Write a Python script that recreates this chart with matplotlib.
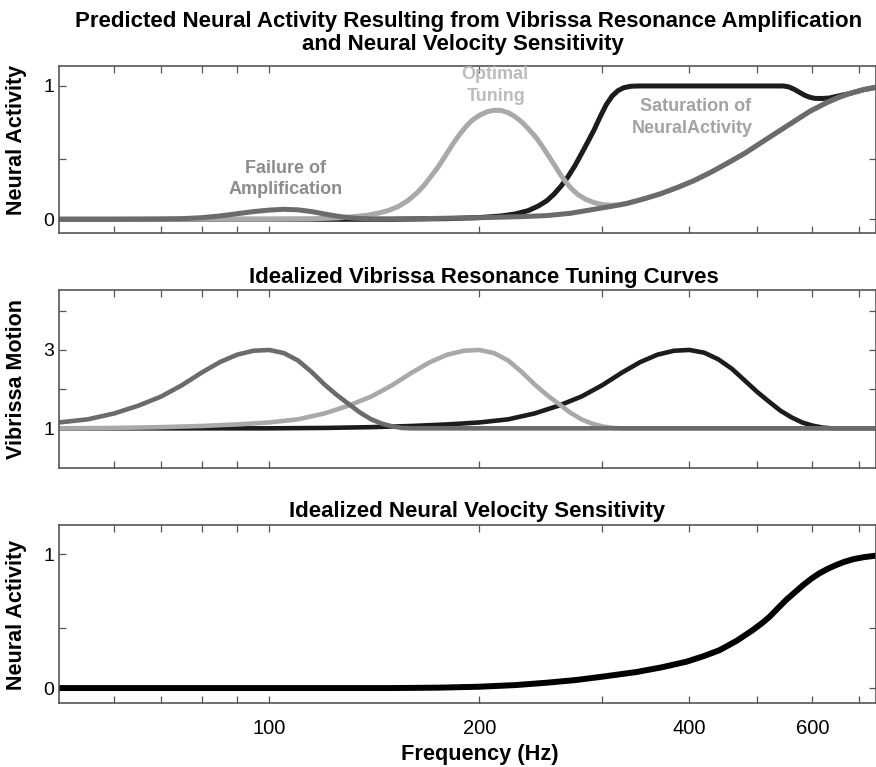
import matplotlib
matplotlib.use("Agg")
import matplotlib.pyplot as plt
from matplotlib.ticker import FixedLocator, FixedFormatter, NullFormatter

plt.rcParams['font.family'] = ['Liberation Sans', 'DejaVu Sans']

# ---------------- data ----------------
FREQ_RANGE = (50, 740)
major_ticks = [100, 200, 400, 600]
major_labels = ['100', '200', '400', '600']
minor_ticks = [60, 70, 80, 90, 300, 500, 700]

# Predicted neural activity (top panel)
freq_fail = [50, 60, 70, 75, 80, 85, 90, 95, 100, 105, 110, 115, 120, 125, 130,
             135, 140, 150, 170, 200, 230, 250, 270, 292, 310, 326, 345, 363, 385,
             406, 430, 453, 480, 505, 535, 564, 595, 629, 655, 680, 710, 740]
act_fail = [0.0, 0.0, 0.002, 0.005, 0.012, 0.025, 0.042, 0.058, 0.069, 0.075,
            0.071, 0.058, 0.040, 0.024, 0.012, 0.006, 0.003, 0.003, 0.006, 0.012,
            0.02, 0.028, 0.045, 0.075, 0.098, 0.12, 0.155, 0.19, 0.24, 0.29, 0.355,
            0.42, 0.495, 0.57, 0.655, 0.732, 0.81, 0.875, 0.915, 0.945, 0.972, 0.99]

freq_opt = [50, 100, 115, 125, 131, 138, 143, 148, 153, 158, 163, 167, 171, 175,
            179, 183, 187, 191, 195, 200, 205, 210, 215, 220, 225, 230, 235, 241,
            246, 251, 256, 261, 266, 271, 277, 284, 292, 300, 310, 320, 326, 345,
            363, 385, 406, 430, 453, 480, 505, 535, 564, 595, 629, 655, 680, 710, 740]
act_opt = [0.0, 0.0, 0.003, 0.01, 0.018, 0.03, 0.045, 0.065, 0.095, 0.14, 0.2,
           0.26, 0.33, 0.40, 0.48, 0.56, 0.63, 0.69, 0.74, 0.78, 0.806, 0.818,
           0.816, 0.80, 0.77, 0.73, 0.68, 0.615, 0.55, 0.48, 0.41, 0.34, 0.28,
           0.23, 0.185, 0.15, 0.125, 0.11, 0.105, 0.11, 0.12, 0.155, 0.19, 0.24,
           0.29, 0.355, 0.42, 0.495, 0.57, 0.655, 0.732, 0.81, 0.875, 0.915,
           0.945, 0.972, 0.99]

freq_sat = [50, 150, 180, 200, 215, 225, 235, 243, 250, 256, 262, 268, 274, 280,
            286, 292, 298, 304, 310, 316, 322, 330, 340, 545, 555, 565, 575, 585,
            595, 605, 620, 635, 650, 680, 710, 740]
act_sat = [0.0, 0.0, 0.005, 0.013, 0.025, 0.04, 0.065, 0.1, 0.14, 0.19, 0.25,
           0.32, 0.40, 0.49, 0.58, 0.67, 0.77, 0.86, 0.925, 0.965, 0.987, 0.998,
           1.0, 1.0, 0.993, 0.975, 0.952, 0.93, 0.915, 0.907, 0.906, 0.91, 0.922,
           0.945, 0.972, 0.99]

# Vibrissa resonance tuning curves (middle panel)
freq_res100 = [50, 55, 60, 65, 70, 75, 80, 85, 90, 95, 100, 105, 110, 115, 120,
               125, 130, 135, 140, 145, 150, 155, 160, 740]
motion_res100 = [1.15, 1.23, 1.38, 1.58, 1.81, 2.10, 2.42, 2.69, 2.88, 2.98, 3.0,
                 2.92, 2.73, 2.44, 2.12, 1.85, 1.62, 1.40, 1.23, 1.12, 1.05, 1.01,
                 1.0, 1.0]

freq_res200 = [50, 60, 70, 80, 90, 100, 110, 120, 130, 140, 150, 160, 170, 180,
               190, 200, 210, 220, 230, 240, 250, 260, 270, 280, 290, 300, 310,
               320, 740]
motion_res200 = [1.0, 1.01, 1.03, 1.06, 1.10, 1.15, 1.23, 1.38, 1.58, 1.81, 2.10,
                 2.42, 2.69, 2.88, 2.98, 3.0, 2.92, 2.73, 2.44, 2.12, 1.85, 1.62,
                 1.40, 1.23, 1.12, 1.05, 1.01, 1.0, 1.0]

freq_res400 = [50, 100, 120, 140, 160, 180, 200, 220, 240, 260, 280, 300, 320,
               340, 360, 380, 400, 420, 440, 460, 480, 500, 520, 540, 560, 580,
               600, 620, 640, 740]
motion_res400 = [1.0, 1.0, 1.01, 1.03, 1.06, 1.10, 1.15, 1.23, 1.38, 1.58, 1.81,
                 2.10, 2.42, 2.69, 2.88, 2.98, 3.0, 2.93, 2.76, 2.52, 2.22, 1.93,
                 1.68, 1.45, 1.28, 1.15, 1.07, 1.02, 1.0, 1.0]

# Neural velocity sensitivity (bottom panel)
freq_vel = [50, 150, 175, 200, 225, 250, 275, 300, 336, 365, 396, 420, 442, 468,
            493, 508, 521, 535, 550, 566, 582, 598, 614, 632, 649, 667, 686, 710, 740]
act_vel = [0.0, 0.0, 0.003, 0.01, 0.022, 0.04, 0.06, 0.085, 0.12, 0.155, 0.197,
           0.24, 0.284, 0.355, 0.434, 0.485, 0.533, 0.595, 0.658, 0.715, 0.77,
           0.818, 0.858, 0.893, 0.92, 0.944, 0.963, 0.978, 0.99]

# ---------------- figure ----------------
W, H = 876, 767
fig = plt.figure(figsize=(W / 100, H / 100), dpi=100)


def fx(x):
    return x / W


def fy(y):
    return 1 - y / H


def add_axes_px(left, top, right, bottom):
    return fig.add_axes([fx(left), fy(bottom), (right - left) / W, (bottom - top) / H])


DARK = '#6b6b6b'
LIGHT = '#a9a9a9'
BLACK = '#1c1c1c'
FRAME = '#555555'
LINE_KW = dict(solid_joinstyle='round', solid_capstyle='butt')


def style_axes(ax, ylim, yticks, ylabels, show_x_labels=False):
    ax.set_xscale('log')
    ax.set_xlim(*FREQ_RANGE)
    ax.set_ylim(*ylim)
    ax.xaxis.set_major_locator(FixedLocator(major_ticks))
    ax.xaxis.set_minor_locator(FixedLocator(minor_ticks))
    ax.xaxis.set_minor_formatter(NullFormatter())
    if show_x_labels:
        ax.xaxis.set_major_formatter(FixedFormatter(major_labels))
    else:
        ax.xaxis.set_major_formatter(NullFormatter())
    ax.set_yticks(yticks)
    ax.set_yticklabels(ylabels)
    ax.tick_params(which='both', direction='in', top=True, right=True,
                   length=5, width=0.9, color=FRAME)
    ax.tick_params(axis='y', labelsize=14, pad=3.5)
    ax.tick_params(axis='x', labelsize=14.5, pad=11)
    for s in ax.spines.values():
        s.set_color(FRAME)
        s.set_linewidth(1.2)


# top panel: predicted neural activity
ax1 = add_axes_px(59, 65.7, 876, 233.3)
ax1.plot(freq_sat, act_sat, color=BLACK, lw=3.6, **LINE_KW)
ax1.plot(freq_opt, act_opt, color=LIGHT, lw=3.6, **LINE_KW)
ax1.plot(freq_fail, act_fail, color=DARK, lw=3.6, **LINE_KW)
style_axes(ax1, (-0.105, 1.152), [0, 0.45, 1], ['0', '', '1'])

# middle panel: resonance tuning curves
ax2 = add_axes_px(59, 290, 876, 468.3)
ax2.plot(freq_res400, motion_res400, color=BLACK, lw=3.3, **LINE_KW)
ax2.plot(freq_res200, motion_res200, color=LIGHT, lw=3.3, **LINE_KW)
ax2.plot(freq_res100, motion_res100, color=DARK, lw=3.3, **LINE_KW)
style_axes(ax2, (-0.02, 4.53), [1, 2, 3, 4], ['1', '', '3', ''])

# bottom panel: velocity sensitivity
ax3 = add_axes_px(59, 525, 876, 703.3)
ax3.plot(freq_vel, act_vel, color='black', lw=4.3, **LINE_KW)
style_axes(ax3, (-0.114, 1.219), [0, 0.446, 1], ['0', '', '1'], show_x_labels=True)

# titles
title_kw = dict(fontsize=16, fontweight='bold', ha='center', va='baseline')
fig.text(fx(469), fy(27), 'Predicted Neural Activity Resulting from Vibrissa Resonance Amplification', **title_kw)
fig.text(fx(463), fy(50), 'and Neural Velocity Sensitivity', **title_kw)
fig.text(fx(484), fy(283), 'Idealized Vibrissa Resonance Tuning Curves', **title_kw)
fig.text(fx(477), fy(517), 'Idealized Neural Velocity Sensitivity', **title_kw)

# axis labels
lab_kw = dict(fontsize=15.5, fontweight='bold', rotation=90, ha='center', va='center')
fig.text(fx(17), fy(140), 'Neural Activity', **lab_kw)
fig.text(fx(17), fy(379), 'Vibrissa Motion', **lab_kw)
fig.text(fx(17), fy(615), 'Neural Activity', **lab_kw)
fig.text(fx(480), fy(760), 'Frequency (Hz)', fontsize=15.7, fontweight='bold',
         ha='center', va='baseline')

# annotations in the top panel
ann_kw = dict(fontsize=13, fontweight='bold', ha='center', va='baseline')
fig.text(fx(285.5), fy(172.7), 'Failure of', color='#8c8c8c', **ann_kw)
fig.text(fx(285.5), fy(194.3), 'Amplification', color='#8c8c8c', **ann_kw)
fig.text(fx(495), fy(79.3), 'Optimal', color='#bcbcbc', **ann_kw)
fig.text(fx(496), fy(101), 'Tuning', color='#bcbcbc', **ann_kw)
fig.text(fx(696), fy(110.7), 'Saturation of', color='#a3a3a3', **ann_kw)
fig.text(fx(692), fy(133.3), 'NeuralActivity', color='#a3a3a3', **ann_kw)

fig.savefig('out.png', dpi=100)
